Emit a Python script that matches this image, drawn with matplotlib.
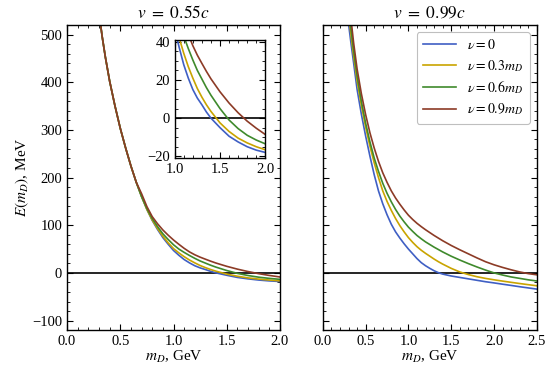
import matplotlib
matplotlib.use("Agg")
import matplotlib.pyplot as plt
from matplotlib.ticker import MultipleLocator

plt.rcParams['font.family'] = ['Liberation Serif', 'DejaVu Serif']
plt.rcParams['mathtext.fontset'] = 'stix'

# left panel, v = 0.55c
m_left = [0.28, 0.30, 0.33, 0.36, 0.40, 0.45, 0.50, 0.55, 0.60, 0.65, 0.70, 0.75, 0.80, 0.85,
          0.90, 0.95, 1.00, 1.05, 1.10, 1.15, 1.20, 1.25, 1.30, 1.35, 1.40, 1.50, 1.60, 1.70,
          1.80, 1.90, 2.00]
E_left_0 = [580, 545, 495, 452, 402, 350, 303, 262, 224, 190, 160, 133, 110, 91,
            74, 60, 47, 37, 28, 21, 15, 10.5, 7, 3.2, 0, -5, -9.5, -12.5,
            -15, -16.8, -18]
E_left_03 = [580, 545, 495, 452, 402, 350, 303, 262, 224, 190, 160, 133, 111, 93,
             77, 63, 51, 42, 34, 27, 21, 15.5, 11, 7, 3.5, -2.5, -7, -10.5,
             -13, -15, -16.6]
E_left_06 = [580, 545, 495, 452, 402, 350, 303, 262, 224, 190, 160, 135, 114, 97,
             82, 70, 59, 50, 43, 36.5, 30.5, 25, 20.5, 16, 12, 5, -1, -5.5,
             -9, -11.5, -13.5]
E_left_09 = [580, 545, 495, 452, 402, 350, 303, 262, 224, 190, 166, 139, 118, 103,
             90, 79, 69, 60, 51.5, 44, 38, 33, 28.7, 24.5, 20.6, 13.8, 7.9, 2.8,
             -1.6, -5.3, -8.6]

# right panel, v = 0.99c
m_right = [0.28, 0.30, 0.33, 0.36, 0.40, 0.45, 0.50, 0.55, 0.60, 0.65, 0.70, 0.75, 0.80, 0.85,
           0.90, 0.95, 1.00, 1.05, 1.10, 1.15, 1.20, 1.25, 1.30, 1.35, 1.40, 1.50, 1.60, 1.70,
           1.80, 1.90, 2.00, 2.10, 2.20, 2.30, 2.40, 2.50]
E_right_0 = [560, 523, 480, 440, 385, 333, 287, 245, 206, 172, 145, 122, 102, 86,
             73, 61, 50, 40, 30, 21.5, 15, 9.5, 4.5, 0.5, -2.5, -6.5, -9.5, -12.5,
             -15.5, -18.5, -21, -23.7, -26.3, -29, -31.5, -34]
E_right_03 = [580, 545, 497, 455, 403, 351, 306, 266, 231, 200, 172, 150, 131, 114,
              99, 86, 74, 64, 55, 47.5, 41, 35, 29, 23.5, 18.5, 9.5, 2, -3.5,
              -8, -11.5, -14.5, -17.2, -19.8, -22.3, -24.7, -27]
E_right_06 = [600, 562, 510, 466, 414, 360, 314, 275, 241, 213, 188, 167, 149, 133,
              119, 107, 96, 87, 78.5, 71.5, 65, 59.5, 54, 49, 44, 35, 27, 19.5,
              12.5, 6, 0, -4.5, -8.5, -11.5, -14.5, -17]
E_right_09 = [640, 590, 530, 482, 428, 376, 332, 294, 262, 234, 210, 190, 172, 157,
              144, 132, 121, 112, 104, 97, 90.5, 84.5, 78.5, 73, 67.5, 57.5, 48.5, 40,
              31.5, 23.5, 17, 11.5, 6.5, 2, -1.5, -4]

labels = [r'$\nu = 0$', r'$\nu = 0.3m_D$', r'$\nu = 0.6m_D$', r'$\nu = 0.9m_D$']
colors = ['#3f5fc4', '#c9a400', '#3f8a2c', '#8c3b26']

left_series = [E_left_0, E_left_03, E_left_06, E_left_09]
right_series = [E_right_0, E_right_03, E_right_06, E_right_09]


def style_axes(ax, fs=10.5):
    ax.tick_params(which='both', direction='in', top=True, right=True, labelsize=fs)
    ax.tick_params(which='major', length=4, width=0.8)
    ax.tick_params(which='minor', length=2, width=0.6)
    for s in ax.spines.values():
        s.set_linewidth(1.0)


fig = plt.figure(figsize=(5.5, 3.73), dpi=100)
ax1 = fig.add_axes([0.122, 0.115, 0.387, 0.818])
ax2 = fig.add_axes([0.587, 0.115, 0.389, 0.818])

for E, c, lab in zip(left_series, colors, labels):
    ax1.plot(m_left, E, color=c, lw=1.2, label=lab)
for E, c, lab in zip(right_series, colors, labels):
    ax2.plot(m_right, E, color=c, lw=1.2, label=lab)

for ax in (ax1, ax2):
    ax.axhline(0, color='black', lw=1.2, zorder=1)
    ax.set_ylim(-120, 520)
    ax.xaxis.set_major_locator(MultipleLocator(0.5))
    ax.xaxis.set_minor_locator(MultipleLocator(0.1))
    ax.yaxis.set_major_locator(MultipleLocator(100))
    ax.yaxis.set_minor_locator(MultipleLocator(20))
    ax.set_xlabel(r'$m_D$, GeV', fontsize=11, labelpad=1)
    style_axes(ax)

ax1.set_xlim(0, 2.0)
ax2.set_xlim(0, 2.5)
ax2.set_yticklabels([])
ax1.set_ylabel(r'$E(m_D)$, MeV', fontsize=11, labelpad=1)
ax1.set_title(r'$v\ =\ 0.55c$', fontsize=12.5, pad=5)
ax2.set_title(r'$v\ =\ 0.99c$', fontsize=12.5, pad=5)

leg = ax2.legend(loc='upper right', fontsize=10, handlelength=2.4, frameon=True,
                 fancybox=True, edgecolor='#b0b0b0', borderpad=0.45, labelspacing=0.4)
leg.get_frame().set_linewidth(0.8)

# inset
axin = fig.add_axes([0.3176, 0.577, 0.1648, 0.316])
for E, c in zip(left_series, colors):
    axin.plot(m_left, E, color=c, lw=1.2)
axin.axhline(0, color='black', lw=1.2, zorder=1)
axin.set_xlim(1.0, 2.0)
axin.set_ylim(-20.8, 41)
axin.xaxis.set_major_locator(MultipleLocator(0.5))
axin.xaxis.set_minor_locator(MultipleLocator(0.1))
axin.yaxis.set_major_locator(MultipleLocator(20))
axin.yaxis.set_minor_locator(MultipleLocator(5))
style_axes(axin)

fig.savefig('out.png', dpi=100)
